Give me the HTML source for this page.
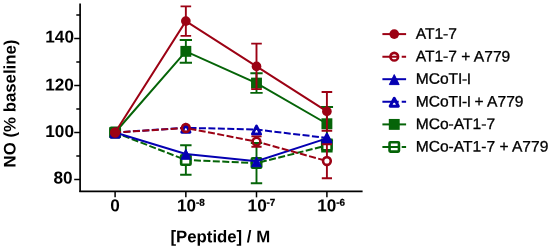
<!DOCTYPE html>
<html><head><meta charset="utf-8"><title>NO release</title>
<style>
html,body{margin:0;padding:0;background:#fff;}
svg{display:block;will-change:transform;text-rendering:geometricPrecision;font-family:"Liberation Sans",sans-serif;}
.b{font-weight:bold;}
</style></head><body>
<svg width="550" height="248" viewBox="0 0 550 248">
<rect width="550" height="248" fill="#fff"/>

<g>
<mask id="m5" maskUnits="userSpaceOnUse" x="0" y="0" width="550" height="248"><rect width="550" height="248" fill="#fff"/><rect x="109.6" y="127" width="11" height="11" fill="#000"/><rect x="180.35" y="154.5" width="11" height="11" fill="#000"/><rect x="251" y="157.6" width="11" height="11" fill="#000"/><rect x="321.4" y="140" width="11" height="11" fill="#000"/></mask>
<polyline points="115.1,132.5 185.85,160 256.5,163.1 326.9,145.5" fill="none" stroke="#056408" stroke-width="2.0" stroke-dasharray="7 2.45" stroke-dashoffset="1.05" mask="url(#m5)"/>
<path d="M185.85 145.25V154M185.85 166V174.75M180.15 145.25H191.55M180.15 174.75H191.55" stroke="#056408" stroke-width="1.9" fill="none"/>
<path d="M256.5 143V157.1M256.5 169.1V183.2M250.8 143H262.2M250.8 183.2H262.2" stroke="#056408" stroke-width="1.9" fill="none"/>
<path d="M326.9 139.5V139.5M326.9 151.5V151.5M321.2 139.5H332.6M321.2 151.5H332.6" stroke="#056408" stroke-width="1.9" fill="none"/>
<rect x="110.4" y="127.8" width="9.4" height="9.4" rx="0.8" fill="none" stroke="#056408" stroke-width="2.6" stroke-linejoin="round"/>
<rect x="181.15" y="155.3" width="9.4" height="9.4" rx="0.8" fill="none" stroke="#056408" stroke-width="2.6" stroke-linejoin="round"/>
<rect x="251.8" y="158.4" width="9.4" height="9.4" rx="0.8" fill="none" stroke="#056408" stroke-width="2.6" stroke-linejoin="round"/>
<rect x="322.2" y="140.8" width="9.4" height="9.4" rx="0.8" fill="none" stroke="#056408" stroke-width="2.6" stroke-linejoin="round"/>
</g>
<g>
<polyline points="115.1,132.5 185.85,51.35 256.5,83.1 326.9,123.75" fill="none" stroke="#056408" stroke-width="2.0"/>
<path d="M185.85 40V51.35M185.85 51.35V62.7M179.7 40H192M179.7 62.7H192" stroke="#056408" stroke-width="1.9" fill="none"/>
<path d="M256.5 73.3V83.1M256.5 83.1V92.9M250.35 73.3H262.65M250.35 92.9H262.65" stroke="#056408" stroke-width="1.9" fill="none"/>
<path d="M326.9 107V123.75M326.9 123.75V140.5M320.75 107H333.05M320.75 140.5H333.05" stroke="#056408" stroke-width="1.9" fill="none"/>
<rect x="109.65" y="127.05" width="10.9" height="10.9" fill="#056408"/>
<rect x="180.4" y="45.9" width="10.9" height="10.9" fill="#056408"/>
<rect x="251.05" y="77.65" width="10.9" height="10.9" fill="#056408"/>
<rect x="321.45" y="118.3" width="10.9" height="10.9" fill="#056408"/>
</g>
<g>
<mask id="m3" maskUnits="userSpaceOnUse" x="0" y="0" width="550" height="248"><rect width="550" height="248" fill="#fff"/><polygon points="115.1,127.9 120,137.9 110.2,137.9" fill="#000"/><polygon points="185.85,123.2 190.75,133.2 180.95,133.2" fill="#000"/><polygon points="256.5,125 261.4,135 251.6,135" fill="#000"/><polygon points="326.9,133.3 331.8,143.3 322,143.3" fill="#000"/></mask>
<polyline points="115.1,132.5 185.85,127.8 256.5,129.6 326.9,137.9" fill="none" stroke="#0500b2" stroke-width="2.0" stroke-dasharray="7 2.45" stroke-dashoffset="1.05" mask="url(#m3)"/>
<polygon points="115.1,128.95 119.2,136.95 111,136.95" fill="none" stroke="#0500b2" stroke-width="2.9" stroke-linejoin="round"/>
<polygon points="185.85,124.25 189.95,132.25 181.75,132.25" fill="none" stroke="#0500b2" stroke-width="2.9" stroke-linejoin="round"/>
<polygon points="256.5,126.05 260.6,134.05 252.4,134.05" fill="none" stroke="#0500b2" stroke-width="2.9" stroke-linejoin="round"/>
<polygon points="326.9,134.35 331,142.35 322.8,142.35" fill="none" stroke="#0500b2" stroke-width="2.9" stroke-linejoin="round"/>
</g>
<g>
<polyline points="115.1,132.5 185.85,153.9 256.5,161.3 326.9,138.4" fill="none" stroke="#0500b2" stroke-width="2.0"/>
<polygon points="115.1,127.9 120,137.9 110.2,137.9" fill="#0500b2" stroke="#0500b2" stroke-width="1" stroke-linejoin="round"/>
<polygon points="185.85,149.3 190.75,159.3 180.95,159.3" fill="#0500b2" stroke="#0500b2" stroke-width="1" stroke-linejoin="round"/>
<polygon points="256.5,156.7 261.4,166.7 251.6,166.7" fill="#0500b2" stroke="#0500b2" stroke-width="1" stroke-linejoin="round"/>
<polygon points="326.9,133.8 331.8,143.8 322,143.8" fill="#0500b2" stroke="#0500b2" stroke-width="1" stroke-linejoin="round"/>
</g>
<g>
<mask id="m1" maskUnits="userSpaceOnUse" x="0" y="0" width="550" height="248"><rect width="550" height="248" fill="#fff"/><circle cx="115.1" cy="132.5" r="4.6" fill="#000"/><circle cx="185.85" cy="128" r="4.6" fill="#000"/><circle cx="256.5" cy="141.6" r="4.6" fill="#000"/><circle cx="326.9" cy="161" r="4.6" fill="#000"/></mask>
<polyline points="115.1,132.5 185.85,128 256.5,141.6 326.9,161" fill="none" stroke="#9c0214" stroke-width="2.0" stroke-dasharray="7 2.45" stroke-dashoffset="1.05" mask="url(#m1)"/>
<path d="M256.5 136.4V136.9M256.5 146.3V146.8M251.4 136.4H261.6M251.4 146.8H261.6" stroke="#9c0214" stroke-width="1.9" fill="none"/>
<path d="M326.9 144.3V156.3M326.9 165.7V178.3M321.8 144.3H332M321.8 178.3H332" stroke="#9c0214" stroke-width="1.9" fill="none"/>
<circle cx="115.1" cy="132.5" r="3.85" fill="none" stroke="#9c0214" stroke-width="2.6"/>
<circle cx="185.85" cy="128" r="3.85" fill="none" stroke="#9c0214" stroke-width="2.6"/>
<circle cx="256.5" cy="141.6" r="3.85" fill="none" stroke="#9c0214" stroke-width="2.6"/>
<circle cx="326.9" cy="161" r="3.85" fill="none" stroke="#9c0214" stroke-width="2.6"/>
</g>
<g>
<polyline points="115.1,132.5 185.85,21.1 256.5,66.4 326.9,111.4" fill="none" stroke="#9c0214" stroke-width="2.0"/>
<path d="M185.85 6.35V21.1M185.85 21.1V35.85M180.55 6.35H191.15M180.55 35.85H191.15" stroke="#9c0214" stroke-width="1.9" fill="none"/>
<path d="M256.5 43.65V66.4M256.5 66.4V89.15M251.2 43.65H261.8M251.2 89.15H261.8" stroke="#9c0214" stroke-width="1.9" fill="none"/>
<path d="M326.9 92V111.4M326.9 111.4V130.8M321.6 92H332.2M321.6 130.8H332.2" stroke="#9c0214" stroke-width="1.9" fill="none"/>
<circle cx="115.1" cy="132.5" r="4.85" fill="#9c0214"/>
<circle cx="185.85" cy="21.1" r="4.85" fill="#9c0214"/>
<circle cx="256.5" cy="66.4" r="4.85" fill="#9c0214"/>
<circle cx="326.9" cy="111.4" r="4.85" fill="#9c0214"/>
</g>
<g stroke="#000" stroke-width="1.7" fill="none">
<path d="M80.1 3.5V192.1"/>
<path d="M79.35 191.35H362.6"/>
<path stroke-width="1.5" d="M74.19999999999999 38.5H80.1"/>
<path stroke-width="1.5" d="M74.19999999999999 85.5H80.1"/>
<path stroke-width="1.5" d="M74.19999999999999 132.5H80.1"/>
<path stroke-width="1.5" d="M74.19999999999999 179.5H80.1"/>
<path stroke-width="1.5" d="M76.3 15H80.1"/>
<path stroke-width="1.5" d="M76.3 62H80.1"/>
<path stroke-width="1.5" d="M76.3 109H80.1"/>
<path stroke-width="1.5" d="M76.3 156H80.1"/>
<path stroke-width="1.5" d="M115.1 191.35V197.35"/>
<path stroke-width="1.5" d="M185.85 191.35V197.35"/>
<path stroke-width="1.5" d="M256.5 191.35V197.35"/>
<path stroke-width="1.5" d="M326.9 191.35V197.35"/>
</g>
<g class="b" font-size="17.2" fill="#000">
<text transform="matrix(1 0.0006 0 1 74.0 42.6)" text-anchor="end">140</text>
<text transform="matrix(1 0.0006 0 1 73.9 90.6)" text-anchor="end">120</text>
<text transform="matrix(1 0.0006 0 1 74.0 137)" text-anchor="end">100</text>
<text transform="matrix(1 0.0006 0 1 72.5 183.5)" text-anchor="end">80</text>
<text transform="matrix(1 0.0006 0 1 115.1 211.3)" text-anchor="middle">0</text>
<text transform="matrix(1 0.0006 0 1 177.05 211.3)">10<tspan font-size="9.9" dx="-0.2" dy="-5.6" stroke="#000" stroke-width="0.25">-8</tspan></text>
<text transform="matrix(1 0.0006 0 1 247.6 211.3)">10<tspan font-size="9.9" dx="-0.2" dy="-5.6" stroke="#000" stroke-width="0.25">-7</tspan></text>
<text transform="matrix(1 0.0006 0 1 317.3 211.3)">10<tspan font-size="9.9" dx="-0.2" dy="-5.6" stroke="#000" stroke-width="0.25">-6</tspan></text>
</g>
<text class="b" font-size="16.8" text-anchor="middle" transform="matrix(1 0.0006 0 1 220.3 242.3)">[Peptide] / M</text>
<text class="b" font-size="16.8" transform="translate(15.6 103.5) rotate(-90) matrix(1 0.0006 0 1 0 0)" text-anchor="middle">NO (% baseline)</text>
<path d="M382.4 34.1H406.1" stroke="#9c0214" stroke-width="2.0"/>
<circle cx="394.25" cy="34.1" r="4.85" fill="#9c0214"/>
<text transform="matrix(1.026 0.0006 0 1 415.7 38.75)" font-size="15.2" fill="#000" stroke="#000" stroke-width="0.3">AT1-7</text>
<path d="M382.4 56.7H398.7M401.7 56.7H406.1" stroke="#9c0214" stroke-width="2.0"/>
<circle cx="394.25" cy="56.7" r="3.85" fill="none" stroke="#9c0214" stroke-width="2.6"/>
<text transform="matrix(1.026 0.0006 0 1 415.7 61.35)" font-size="15.2" fill="#000" stroke="#000" stroke-width="0.3">AT1-7 + A779</text>
<path d="M382.4 79.2H406.1" stroke="#0500b2" stroke-width="2.0"/>
<polygon points="394.25,74.6 399.15,84.6 389.35,84.6" fill="#0500b2" stroke="#0500b2" stroke-width="1" stroke-linejoin="round"/>
<text transform="matrix(1.026 0.0006 0 1 415.7 83.85)" font-size="15.2" fill="#000" stroke="#000" stroke-width="0.3">MCoT<tspan letter-spacing="-0.45">I-I</tspan></text>
<path d="M382.4 101.8H398.7M401.7 101.8H406.1" stroke="#0500b2" stroke-width="2.0"/>
<polygon points="394.25,98.25 398.35,106.25 390.15,106.25" fill="none" stroke="#0500b2" stroke-width="2.9" stroke-linejoin="round"/>
<text transform="matrix(1.026 0.0006 0 1 415.7 106.45)" font-size="15.2" fill="#000" stroke="#000" stroke-width="0.3">MCoT<tspan letter-spacing="-0.45">I-I</tspan><tspan letter-spacing="-0.4"> + </tspan>A779</text>
<path d="M382.4 124.4H406.1" stroke="#056408" stroke-width="2.0"/>
<rect x="388.8" y="118.95" width="10.9" height="10.9" fill="#056408"/>
<text transform="matrix(1.026 0.0006 0 1 415.7 129.05)" font-size="15.2" fill="#000" stroke="#000" stroke-width="0.3">MCo-AT1-7</text>
<path d="M382.4 146.9H398.7M401.7 146.9H406.1" stroke="#056408" stroke-width="2.0"/>
<rect x="389.55" y="142.2" width="9.4" height="9.4" rx="0.8" fill="none" stroke="#056408" stroke-width="2.6" stroke-linejoin="round"/>
<text transform="matrix(1.026 0.0006 0 1 415.7 151.55)" font-size="15.2" fill="#000" stroke="#000" stroke-width="0.3">MCo-AT1-7 + A779</text>
</svg>
</body></html>
